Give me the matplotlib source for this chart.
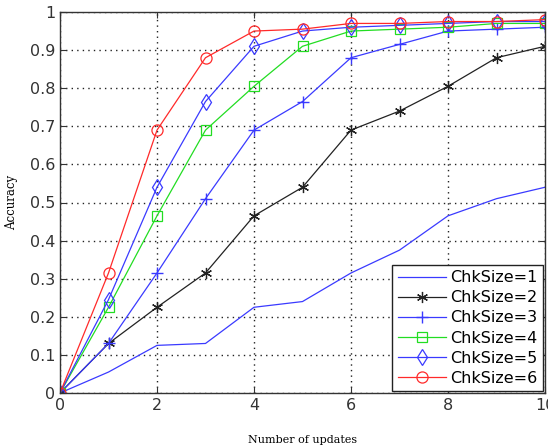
import matplotlib.pyplot as plt
import numpy as np

# data
updates = list(range(11))
acc_1 = [0, 0.055, 0.125, 0.13, 0.225, 0.24, 0.315, 0.375, 0.465, 0.51, 0.54]
acc_2 = [0, 0.13, 0.225, 0.315, 0.465, 0.54, 0.69, 0.74, 0.805, 0.88, 0.91]
acc_3 = [0, 0.13, 0.315, 0.51, 0.69, 0.765, 0.88, 0.915, 0.95, 0.955, 0.96]
acc_4 = [0, 0.225, 0.465, 0.69, 0.805, 0.91, 0.95, 0.955, 0.96, 0.97, 0.97]
acc_5 = [0, 0.245, 0.54, 0.765, 0.91, 0.95, 0.96, 0.965, 0.97, 0.975, 0.975]
acc_6 = [0, 0.315, 0.69, 0.88, 0.95, 0.955, 0.97, 0.97, 0.975, 0.975, 0.98]
labels = ["ChkSize=1", "ChkSize=2", "ChkSize=3", "ChkSize=4", "ChkSize=5", "ChkSize=6"]

fig = plt.figure(figsize=(5.48, 4.46), dpi=100)
ax = fig.add_axes([60 / 548, 1 - 393 / 446, 485 / 548, 381 / 446])

blue = "#3a3aff"
green = "#22dd22"
red = "#ff2a2a"
lw = 0.9
ax.plot(updates, acc_1, color=blue, lw=lw, label=labels[0])
ax.plot(updates, acc_2, color="#222222", lw=lw, marker=(6, 2, 0), ms=8,
        mew=0.9, label=labels[1])
ax.plot(updates, acc_3, color=blue, lw=lw, marker="+", ms=9, mew=1.0,
        label=labels[2])
ax.plot(updates, acc_4, color=green, lw=lw, marker="s", ms=6.5, mfc="none",
        mew=0.9, label=labels[3])
ax.plot(updates, acc_5, color=blue, lw=lw, marker="d", ms=8, mfc="none",
        mew=0.9, label=labels[4])
ax.plot(updates, acc_6, color=red, lw=lw, marker="o", ms=8, mfc="none",
        mew=0.9, label=labels[5])

ax.set_xlim(0, 10)
ax.set_ylim(0, 1)
ax.set_xticks(np.arange(0, 11, 2))
ax.set_yticks(np.arange(0, 1.01, 0.1))
ax.set_yticklabels(["0", "0.1", "0.2", "0.3", "0.4", "0.5", "0.6", "0.7",
                    "0.8", "0.9", "1"])
ax.tick_params(direction="in", length=4, labelsize=11.5, colors="#333333",
               top=True, right=True)
for s in ax.spines.values():
    s.set_color("#333333")
    s.set_linewidth(1.0)
ax.grid(True, linestyle=(0, (1, 3)), color="#222222", linewidth=1.0)

ax.set_xlabel("Number of updates", family="DejaVu Serif", fontsize=8,
              labelpad=16)
ax.set_ylabel("Accuracy", family="DejaVu Serif", fontsize=8.5, labelpad=8)

leg = ax.legend(loc="lower right", fontsize=11.5, fancybox=False,
                framealpha=1, edgecolor="#222222", borderaxespad=0.1,
                handlelength=3.0, handletextpad=0.3, labelspacing=0.32,
                borderpad=0.35)
leg.get_frame().set_linewidth(1.0)

plt.savefig("out.png", dpi=100)
